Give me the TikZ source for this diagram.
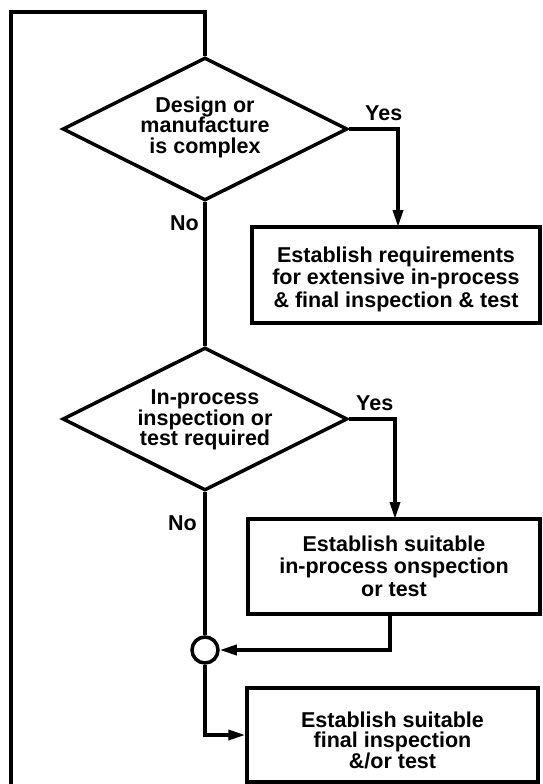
\documentclass[tikz,border=0pt]{standalone}
\usepackage{fontspec}
\setmainfont{Liberation Sans}
\usetikzlibrary{shapes.geometric,arrows.meta}
\begin{document}
\begin{tikzpicture}[x=1pt,y=-1pt,
  ln/.style={line width=3.5pt},
  arr/.style={ln,-{Triangle[length=17pt,width=10pt]}},
  dia/.style={ln,draw,diamond,inner sep=0pt,minimum width=285pt,minimum height=143pt},
  boxnode/.style={ln,draw,rectangle,inner sep=0pt},
  txt/.style={align=center,inner sep=0pt,font=\bfseries\fontsize{21.5}{22.5}\selectfont},
  dtxt/.style={align=center,inner sep=0pt,font=\bfseries\fontsize{21.5}{20.5}\selectfont},
  lbl/.style={inner sep=0pt,font=\bfseries\fontsize{21.5}{22}\selectfont}]
\useasboundingbox (0,0) rectangle (543,784);
% decisions
\node[dia] (d1) at (205,129) {};
\node[dtxt] (d1t) at (205,127) {Design or\\manufacture\\is complex};
\node[dia] (d2) at (205,419) {};
\node[dtxt] (d2t) at (205,420) {In-process\\inspection or\\test required};
% boxes
\node[boxnode,minimum width=288pt,minimum height=96pt] (b1) at (396,275) {};
\node[txt] (b1t) at (396,279) {Establish requirements\\for extensive in-process\\\& final inspection \& test};
\node[boxnode,minimum width=292pt,minimum height=95pt] (b2) at (394,566.5) {};
\node[txt] (b2t) at (394,566) {Establish suitable\\in-process onspection\\or test};
\node[boxnode,minimum width=291pt,minimum height=94pt] (b3) at (392.5,735) {};
\node[dtxt] (b3t) at (392.5,740) {Establish suitable\\final inspection\\\&/or test};
% junction
\node[ln,draw,circle,minimum size=26pt,inner sep=0pt] (c) at (205,650) {};
% coordinates
\coordinate (tl) at (11,12);
\coordinate (bl) at (11,790);
\coordinate (y1) at (398,227);
\coordinate (y2) at (395,519);
\coordinate (o2) at (390,614);
% connectors
\draw[ln] (bl) -- (tl) -| (d1.north);
\draw[arr] (d1.east) -| (y1);
\draw[ln] (d1.south) -- (d2.north);
\draw[arr] (d2.east) -| (y2);
\draw[ln] (d2.south) -- (c.north);
\draw[arr] (o2) |- (c.east);
\draw[arr] (c.south) |- (b3.west);
% labels
\node[lbl,anchor=base west] (yes1) at (365,120) {Yes};
\node[lbl,anchor=base west] (yes2) at (356,410) {Yes};
\node[lbl,anchor=base east] (no1) at (199,230) {No};
\node[lbl,anchor=base east] (no2) at (197,530) {No};
\end{tikzpicture}
\end{document}
